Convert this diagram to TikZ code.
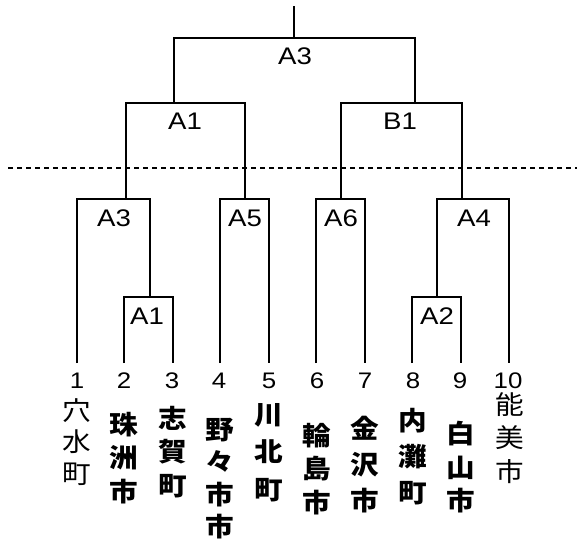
\documentclass[tikz,border=0pt]{standalone}
\usepackage{fontspec}
\setmainfont{Liberation Sans}
\newfontfamily\lat[FakeStretch=1.15]{Liberation Sans}
\newfontfamily\cjk[FakeStretch=1.1]{Noto Sans CJK JP}
\begin{document}
\begin{tikzpicture}[x=1pt,y=-1pt,
  tree/.style={line width=1.4pt},
  cut/.style={line width=1.1pt, dash pattern=on 5pt off 4pt},
  lab/.style={font=\lat\fontsize{24}{26}\selectfont, inner sep=0pt},
  num/.style={font=\lat\fontsize{22.5}{24}\selectfont, inner sep=0pt},
  place/.style={anchor=north, inner sep=0pt, align=center}]
\fill[white] (0,0) rectangle (577,545);
\useasboundingbox (0,0) rectangle (577,545);
% leaves
\foreach \i/\x in {1/77,2/124,3/173,4/220,5/269,6/316,7/365,8/412,9/461,10/509}
  \coordinate (l\i) at (\x,363);
% internal attachment points
\coordinate (s1) at (150,297);
\coordinate (s2) at (437,297);
\coordinate (m3) at (126,199);
\coordinate (m5) at (245,199);
\coordinate (m6) at (341,199);
\coordinate (m4) at (462,199);
\coordinate (u1) at (174,103);
\coordinate (ub) at (415,103);
\coordinate (rt) at (294,38);
\coordinate (top) at (294,6);
% tree
\draw[tree] (l2) |- (s1) -| (l3);
\draw[tree] (l8) |- (s2) -| (l9);
\draw[tree] (l1) |- (m3) -| (s1);
\draw[tree] (l4) |- (m5) -| (l5);
\draw[tree] (l6) |- (m6) -| (l7);
\draw[tree] (s2) |- (m4) -| (l10);
\draw[tree] (m3) |- (u1) -| (m5);
\draw[tree] (m6) |- (ub) -| (m4);
\draw[tree] (u1) |- (rt) -| (ub);
\draw[tree] (rt) -- (top);
% cut line
\coordinate (cl) at (8,168);
\coordinate (cr) at (577,168);
\draw[cut] (cl) -- (cr);
% merge labels
\node[lab] (tA3) at (295,56) {A3};
\node[lab] (tA1) at (185,121) {A1};
\node[lab] (tB1) at (400,121) {B1};
\node[lab] (mA3) at (114,218) {A3};
\node[lab] (mA5) at (245,218) {A5};
\node[lab] (mA6) at (341,218) {A6};
\node[lab] (mA4) at (474,218) {A4};
\node[lab] (sA1) at (147,316) {A1};
\node[lab] (sA2) at (437,316) {A2};
% numbers
\foreach \i/\x in {1/77,2/124,3/172,4/219,5/269,6/317,7/365,8/413,9/460,10/508}
  \node[num] (n\i) at (\x,381) {\i};
% names
\node[place, font=\cjk\fontsize{26}{31.5}\selectfont] (c1) at (77,398) {穴\\水\\町};
\node[place, font=\cjk\bfseries\fontsize{26}{33.5}\selectfont] (c2) at (124,412) {珠\\洲\\市};
\node[place, font=\cjk\bfseries\fontsize{26}{33.5}\selectfont] (c3) at (173,406) {志\\賀\\町};
\node[place, font=\cjk\bfseries\fontsize{26}{32.5}\selectfont] (c4) at (220,418) {野\\々\\市\\市};
\node[place, font=\cjk\bfseries\fontsize{26}{37.5}\selectfont] (c5) at (269,403) {川\\北\\町};
\node[place, font=\cjk\bfseries\fontsize{26}{33.5}\selectfont] (c6) at (317,423) {輪\\島\\市};
\node[place, font=\cjk\bfseries\fontsize{26}{36}\selectfont] (c7) at (365,416) {金\\沢\\市};
\node[place, font=\cjk\bfseries\fontsize{26}{36}\selectfont] (c8) at (413,408) {内\\灘\\町};
\node[place, font=\cjk\bfseries\fontsize{26}{33.5}\selectfont] (c9) at (461,421) {白\\山\\市};
\node[place, font=\cjk\fontsize{26}{33.5}\selectfont] (c10) at (510,392) {能\\美\\市};
\end{tikzpicture}
\end{document}
